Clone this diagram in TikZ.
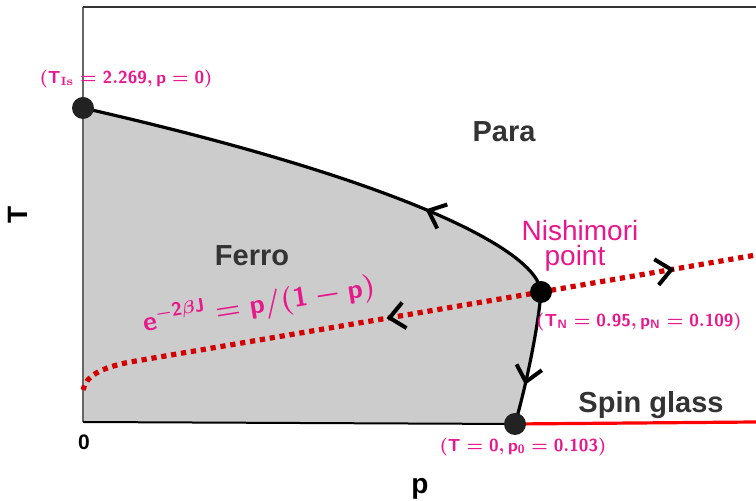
\documentclass[tikz,border=0pt]{standalone}
\usepackage{fontspec}
\newfontfamily\libsans{Liberation Sans}
\usepackage{tikz}
\usetikzlibrary{arrows.meta,decorations.markings}
\definecolor{PhMagenta}{HTML}{E8178C}
\definecolor{PhRed}    {HTML}{D40000}
\definecolor{PhGray}   {HTML}{CCCCCC}
\definecolor{PhText}   {HTML}{333333}
\definecolor{PhDot}    {HTML}{222222}
\definecolor{PhAxis}   {HTML}{666666}
\tikzset{
  phasedot/.style={circle,fill=PhDot,inner sep=0pt,minimum size=11pt},
  flowline/.style={line width=1.6pt,black},
  nishiline/.style={line width=2.6pt,PhRed,dash pattern=on 2.6pt off 2.4pt},
  flowtip/.style={postaction={decorate,decoration={markings,
      mark=at position #1 with {\arrow[black,solid,line width=2pt]{Straight Barb[length=7.5pt,width=13pt]}}}}},
  regionlabel/.style={font=\libsans\bfseries\fontsize{14.5}{16}\selectfont,text=PhText,anchor=base},
  pointlabel/.style={font=\fontsize{8.7}{10}\selectfont\boldmath,text=PhMagenta},
  namelabel/.style={font=\libsans\fontsize{14}{16}\selectfont,text=PhMagenta,anchor=base,inner sep=0pt},
  axislabel/.style={font=\libsans\bfseries\fontsize{14}{16}\selectfont,text=black}
}
\begin{document}
\begin{tikzpicture}[x=0.5pt,y=-0.5pt]
    \useasboundingbox (0,0) rectangle (756,501);
    % corner points of the phase diagram
    \coordinate (ising)    at (83,108);
    \coordinate (nishi)    at (541,292);
    \coordinate (zero)     at (515,424);
    \coordinate (origin)   at (83,422);
    \coordinate (topleft)  at (83,7);
    \coordinate (topright) at (756,7);
    \coordinate (sgend)    at (756,422);
    \coordinate (bend)     at (130,362);
    \coordinate (ferroend) at (83,390);
    \coordinate (paraend)  at (756,255);

    % ferro region
    \fill[PhGray] (ising) .. controls (400,180) and (538,250) .. (nishi)
                  .. controls (538,330) and (525,390) .. (zero) -- (origin) -- cycle;

    % frame
    \draw[PhAxis,line width=1pt]  (topleft) -- (origin);
    \draw[PhText,line width=1pt]  (topleft) -- (topright);
    \draw[black,line width=1pt]   (origin) -- (zero);
    \draw[red,line width=1.6pt]   (zero) -- (sgend);

    % phase boundaries
    \draw[flowline,flowtip=0.29] (nishi) .. controls (538,250) and (400,180) .. (ising);
    \draw[flowline,flowtip=0.7] (nishi) .. controls (538,330) and (525,390) .. (zero);

    % Nishimori line
    \draw[nishiline,flowtip=0.33] (nishi) -- (bend) .. controls (100,368) and (86,376) .. (ferroend);
    \draw[nishiline,flowtip=0.62] (nishi) -- (paraend);

    % fixed points
    \node[phasedot]             (isingdot) at (ising) {};
    \node[phasedot,fill=black]  (nishidot) at (nishi) {};
    \node[phasedot]             (zerodot)  at (zero)  {};

    % regions
    \node[regionlabel] (para)  at (504,142) {Para};
    \node[regionlabel] (ferro) at (252,266) {Ferro};
    \node[regionlabel] (spin)  at (651,413) {Spin glass};

    % point labels
    \node[pointlabel] (isinglbl) at (126,79)  {$(\mathsf{T}_{\mathbf{Is}} = \mathsf{2.269}, \mathsf{p} = \mathsf{0})$};
    \node[pointlabel] (nishilbl) at (639,322) {$(\mathsf{T}_{\mathsf{N}} = \mathsf{0.95}, \mathsf{p}_{\mathsf{N}} = \mathsf{0.109})$};
    \node[pointlabel] (zerolbl)  at (523,447) {$(\mathsf{T} = \mathsf{0}, \mathsf{p}_{\mathsf{0}} = \mathsf{0.103})$};
    \node[namelabel] (nishiname) at (580,241) {Nishimori};
    \node[namelabel] (nishipt)   at (575,266) {point};
    \node[text=PhMagenta,font=\fontsize{13.5}{16}\selectfont\boldmath,rotate=9,inner sep=0pt] (nishieq) at (259,305)
        {$\mathsf{e}^{-\mathsf{2}\beta\mathsf{J}} = \mathsf{p}/(\mathsf{1}-\mathsf{p})$};

    % axes
    \node[axislabel,rotate=90] (tlabel) at (18,215) {T};
    \node[axislabel,anchor=base] (plabel) at (420,494) {p};
    \node[axislabel,font=\libsans\bfseries\fontsize{10.5}{12}\selectfont] (zlabel) at (84,442) {0};
  \end{tikzpicture}
\end{document}
